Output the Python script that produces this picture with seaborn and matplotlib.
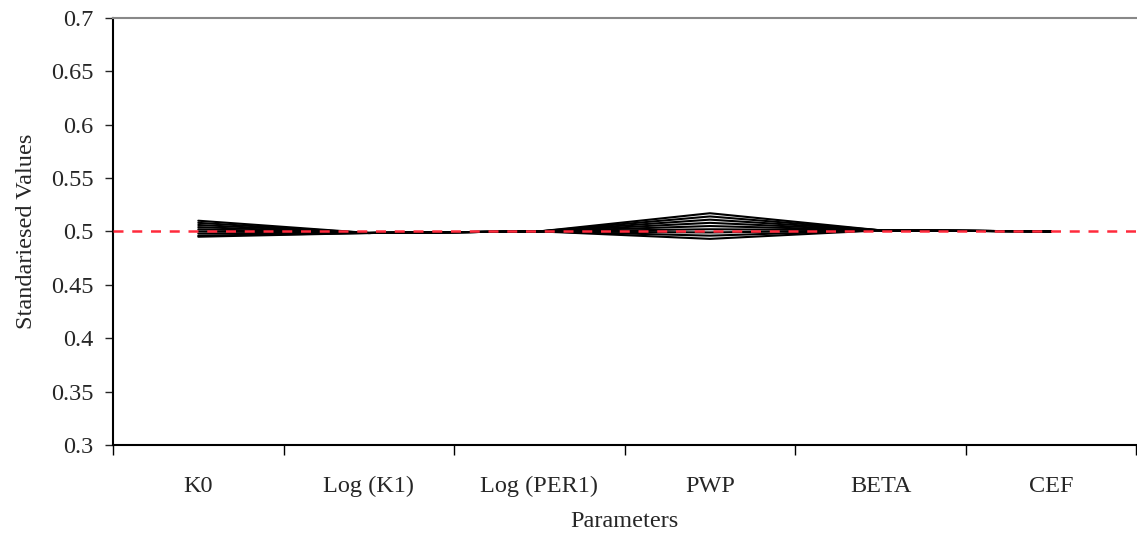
import matplotlib
matplotlib.use("Agg")
import matplotlib.pyplot as plt
import numpy as np
import pandas as pd
import seaborn as sns

# Parameters on the x axis
parameters = ["K0", "Log (K1)", "Log (PER1)", "PWP", "BETA", "CEF"]

# Standardised values of each run
run_1 = [0.510, 0.4985, 0.500, 0.517, 0.501, 0.500]
run_2 = [0.508, 0.4985, 0.500, 0.514, 0.501, 0.500]
run_3 = [0.506, 0.4985, 0.500, 0.511, 0.501, 0.500]
run_4 = [0.504, 0.4985, 0.500, 0.508, 0.501, 0.500]
run_5 = [0.502, 0.4985, 0.500, 0.505, 0.501, 0.500]
run_6 = [0.500, 0.4985, 0.500, 0.502, 0.501, 0.500]
run_7 = [0.498, 0.4985, 0.500, 0.499, 0.501, 0.500]
run_8 = [0.496, 0.4985, 0.500, 0.496, 0.501, 0.500]
run_9 = [0.495, 0.4985, 0.500, 0.493, 0.501, 0.500]
runs = [run_1, run_2, run_3, run_4, run_5, run_6, run_7, run_8, run_9]

reference_value = 0.5

# Long format for seaborn
rows = []
for i, run in enumerate(runs):
    for j, v in enumerate(run):
        rows.append({"run": f"run {i + 1}", "pos": j, "value": v})
df = pd.DataFrame(rows)

sns.set_style("ticks")
plt.rcParams["font.family"] = ["Liberation Serif", "DejaVu Serif"]

fig = plt.figure(figsize=(11.37, 5.4), dpi=100)
ax = fig.add_axes([0.0994, 0.176, 0.9, 0.791])

# Runs as thin black lines
sns.lineplot(data=df, x="pos", y="value", units="run", estimator=None,
             color="black", linewidth=1.5, ax=ax, legend=False)

# Reference line at 0.5
ax.axhline(reference_value, color="#ff2a3c", linestyle=(0, (4, 3.5)), linewidth=1.8, zorder=3)

ax.set_xlim(-0.5, len(parameters) - 0.5)
ax.set_ylim(0.3, 0.7)
ax.set_yticks(np.arange(0.3, 0.701, 0.05))
ax.set_yticklabels(["0.3", "0.35", "0.4", "0.45", "0.5", "0.55", "0.6", "0.65", "0.7"])

ax.set_xticks(range(len(parameters)))
ax.set_xticklabels(parameters)
ax.set_xticks(np.arange(-0.5, len(parameters)), minor=True)
ax.tick_params(axis="x", which="major", length=0, pad=22, labelsize=17.5)
ax.tick_params(axis="x", which="minor", length=7, width=1, color="black", direction="out")
ax.tick_params(axis="y", length=6, width=1, labelsize=17.5, direction="out", pad=8)

ax.set_xlabel("Parameters", fontsize=17.5, labelpad=10)
ax.set_ylabel("Standariesed Values", fontsize=17.5, labelpad=10)

for s in ["left", "bottom"]:
    ax.spines[s].set_color("black")
    ax.spines[s].set_linewidth(1.5)
ax.spines["top"].set_color("#888888")
ax.spines["top"].set_linewidth(1.5)
ax.spines["right"].set_visible(False)

fig.savefig("out.png", dpi=100)
